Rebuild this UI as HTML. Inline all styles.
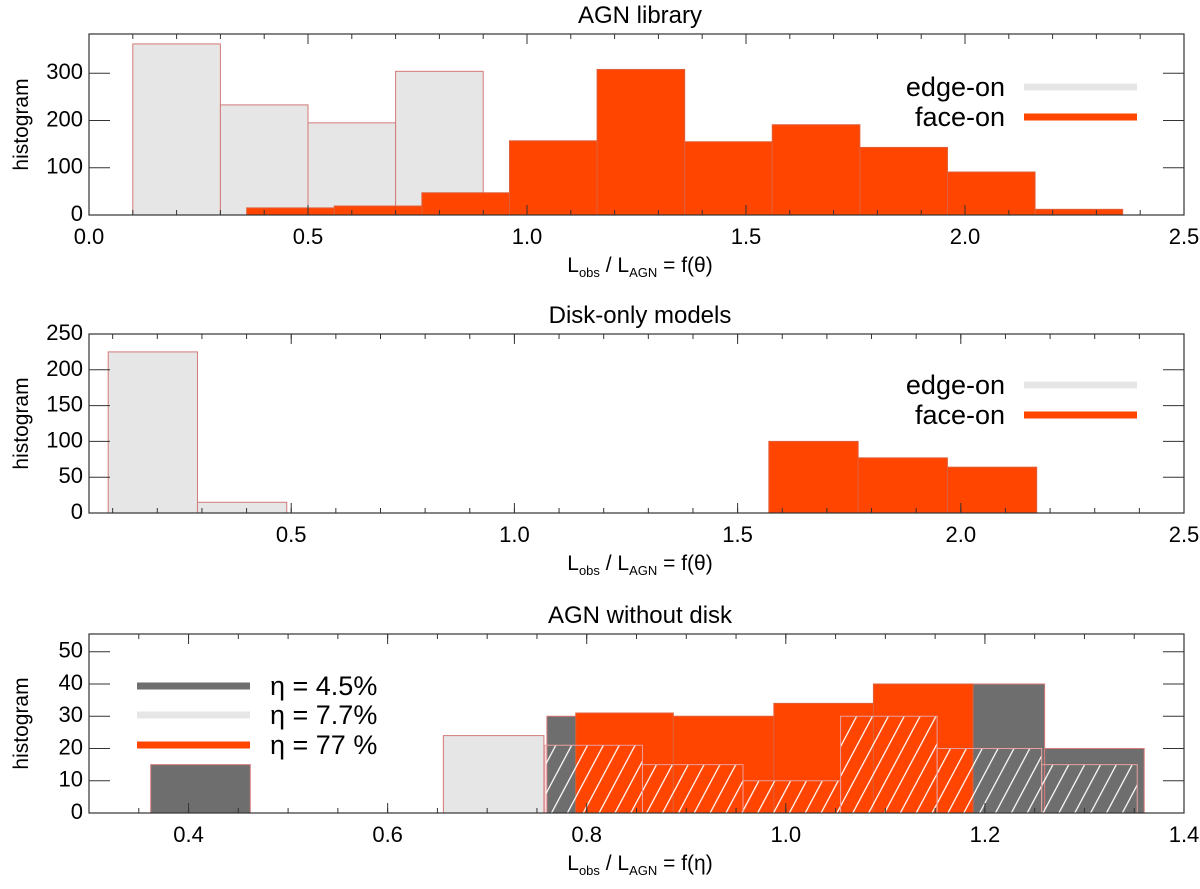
<!DOCTYPE html>
<html><head><meta charset="utf-8"><style>
body{margin:0;background:#fff}
svg text{font-family:"Liberation Sans",sans-serif;fill:#000}
</style></head><body>
<svg id="c" width="1200" height="884" viewBox="0 0 1200 884" xmlns="http://www.w3.org/2000/svg">
<defs>
<pattern id="hatch" patternUnits="userSpaceOnUse" width="14" height="14" patternTransform="rotate(28)">
<line x1="0" y1="0" x2="0" y2="14" stroke="#fff" stroke-width="2.5"/>
</pattern>
</defs>
</svg>
<script>
// Panel 1: AGN library
const p1EdgeEdges=[0.1,0.3,0.5,0.7,0.9];
const p1EdgeVals=[362,233,195,304];
const p1FaceEdges=[0.36,0.56,0.76,0.96,1.16,1.36,1.56,1.76,1.96,2.16,2.36];
const p1FaceVals=[15,19,47,157,308,155,191,143,91,12];
const p1XTicks=["0.0","0.5","1.0","1.5","2.0","2.5"];
const p1YTicks=[0,100,200,300];
// Panel 2: Disk-only models
const p2EdgeEdges=[0.09,0.29,0.49];
const p2EdgeVals=[225,15];
const p2FaceEdges=[1.57,1.77,1.97,2.17];
const p2FaceVals=[100,77,64];
const p2XTicks=["0.5","1.0","1.5","2.0","2.5"];
const p2YTicks=[0,50,100,150,200,250];
// Panel 3: AGN without disk
const p3DarkEdges=[0.362,0.462];
const p3DarkVals=[15];
const p3Dark2Edges=[0.76,0.79];
const p3Dark2Vals=[30];
const p3Dark3Edges=[1.188,1.26,1.36];
const p3Dark3Vals=[40,20];
const p3LightEdges=[0.656,0.757];
const p3LightVals=[24];
const p3OrangeEdges=[0.789,0.887,0.988,1.088,1.188];
const p3OrangeVals=[31,30,34,40];
const p3HatchEdges=[0.758,0.856,0.957,1.055,1.152,1.257,1.353];
const p3HatchVals=[21,15,10,30,20,15];
const p3XTicks=["0.4","0.6","0.8","1.0","1.2","1.4"];
const p3YTicks=[0,10,20,30,40,50];

const svg=document.getElementById('c');
const NS='http://www.w3.org/2000/svg';
function mk(tag,attrs,parent){const e=document.createElementNS(NS,tag);for(const k in attrs)e.setAttribute(k,attrs[k]);(parent||svg).appendChild(e);return e;}
function txt(s,x,y,size,anchor,parent){const t=mk('text',{x:x,y:y,'font-size':size,'text-anchor':anchor||'middle'},parent);t.textContent=s;return t;}

const L=89,R=1184;
function panel(cfg){
  const g=mk('g',{});
  
  
  const sx=v=>L+(v-cfg.x0)/(cfg.x1-cfg.x0)*(R-L);
  const sy=v=>cfg.yb-(v-0)/cfg.ymax*(cfg.yb-cfg.yt);
  cfg.sx=sx;cfg.sy=sy;cfg.g=g;
  const t=txt(cfg.title,640,cfg.yt-11,24,'middle',g);
  
  
  return cfg;
}
function bars(cfg,edges,vals,fill,stroke,name){
  for(let i=0;i<vals.length;i++){
    const x0=cfg.sx(edges[i]),x1=cfg.sx(edges[i+1]),y=cfg.sy(vals[i]);
    const r=mk('rect',{x:x0,y:y,width:x1-x0,height:cfg.sy(0)-y,fill:fill,stroke:stroke,'stroke-width':1},cfg.g);
    
    
  }
}
function axes(cfg,xt,xtv,yt,minorStep,xlabel,greek){
  const g=cfg.g;
  const f=mk('rect',{x:L,y:cfg.yt,width:R-L,height:cfg.yb-cfg.yt,fill:'none',stroke:'#333','stroke-width':1.2},g);
  
  
  for(let v=Math.ceil(cfg.x0/minorStep)*minorStep;v<=cfg.x1+1e-9;v+=minorStep){
    const x=cfg.sx(v);
    mk('line',{x1:x,x2:x,y1:cfg.yb,y2:cfg.yb-5,stroke:'#333'},g);
    mk('line',{x1:x,x2:x,y1:cfg.yt,y2:cfg.yt+5,stroke:'#333'},g);
  }
  for(let i=0;i<xt.length;i++){
    const x=cfg.sx(xtv[i]);
    mk('line',{x1:x,x2:x,y1:cfg.yb,y2:cfg.yb-10,stroke:'#333'},g);
    mk('line',{x1:x,x2:x,y1:cfg.yt,y2:cfg.yt+10,stroke:'#333'},g);
    const t=txt(xt[i],x,cfg.yb+29,22,'middle',g);
    
    
  }
  for(const v of yt){
    const y=cfg.sy(v);
    mk('line',{x1:L,x2:L+21,y1:y,y2:y,stroke:'#333'},g);
    mk('line',{x1:R,x2:R-21,y1:y,y2:y,stroke:'#333'},g);
    const t=txt(String(v),L-6,y+6,22,'end',g);
    
    
  }
  const yl=txt('histogram',0,0,21,'middle',g);
  yl.setAttribute('transform','translate(28,'+((cfg.yt+cfg.yb)/2)+') rotate(-90)');
  
  
  const xl=mk('text',{x:640,y:cfg.yb+57,'font-size':21,'text-anchor':'middle'},g);
  xl.innerHTML='L<tspan font-size="13" dy="5">obs</tspan><tspan dy="-5">  / L</tspan><tspan font-size="13" dy="5">AGN</tspan><tspan dy="-5"> = f('+greek+')</tspan>';
  
  
}
function legendEntry(g,label,x,y,color,anchorRight,lx1,lx2){
  const l=mk('line',{x1:lx1,x2:lx2,y1:y,y2:y,stroke:color,'stroke-width':7},g);
  
  
  const t=txt(label,x,y+9,27,anchorRight?'end':'start',g);
  
  
}

const GRAY='#e6e6e6',ORANGE='#ff4500',DARK='#6e6e6e',OUT='#d47a7a';

// Panel 1
const P1=panel({name:'agn-library-panel',title:'AGN library',x0:0,x1:2.5,ymax:383,yt:34,yb:215});
bars(P1,p1EdgeEdges,p1EdgeVals,GRAY,OUT,'edge-on');
bars(P1,p1FaceEdges,p1FaceVals,ORANGE,'#e0603a','face-on');
axes(P1,p1XTicks,p1XTicks.map(Number),p1YTicks,0.1,'','θ');
legendEntry(P1.g,'edge-on',1005,87,GRAY,true,1024,1137);
legendEntry(P1.g,'face-on',1005,117,ORANGE,true,1024,1137);

// Panel 2
const P2=panel({name:'disk-only-panel',title:'Disk-only models',x0:0.047,x1:2.5,ymax:250,yt:334,yb:513});
bars(P2,p2EdgeEdges,p2EdgeVals,GRAY,OUT,'edge-on');
bars(P2,p2FaceEdges,p2FaceVals,ORANGE,'#e0603a','face-on');
axes(P2,p2XTicks,p2XTicks.map(Number),p2YTicks,0.1,'','θ');
legendEntry(P2.g,'edge-on',1005,385,GRAY,true,1024,1137);
legendEntry(P2.g,'face-on',1005,415,ORANGE,true,1024,1137);

// Panel 3
const P3=panel({name:'agn-without-disk-panel',title:'AGN without disk',x0:0.3,x1:1.4,ymax:55.5,yt:634,yb:813});
bars(P3,p3DarkEdges,p3DarkVals,DARK,OUT,'eta-4.5');
bars(P3,p3Dark2Edges,p3Dark2Vals,DARK,OUT,'eta-4.5');
bars(P3,p3Dark3Edges,p3Dark3Vals,DARK,OUT,'eta-4.5');
bars(P3,p3LightEdges,p3LightVals,GRAY,OUT,'eta-7.7');
bars(P3,p3OrangeEdges,p3OrangeVals,ORANGE,'#e0603a','eta-77');
bars(P3,p3HatchEdges,p3HatchVals,'url(#hatch)','#e8a0a0','hatched');
mk('line',{x1:P3.sx(0.462),x2:P3.sx(0.656),y1:813,y2:813,stroke:OUT},P3.g);
axes(P3,p3XTicks,p3XTicks.map(Number),p3YTicks,0.05,'','η');
legendEntry(P3.g,'η =  4.5%',270,686,DARK,false,137,250);
legendEntry(P3.g,'η =  7.7%',270,715,GRAY,false,137,250);
legendEntry(P3.g,'η =  77 %',270,745,ORANGE,false,137,250);
</script>
</body></html>
